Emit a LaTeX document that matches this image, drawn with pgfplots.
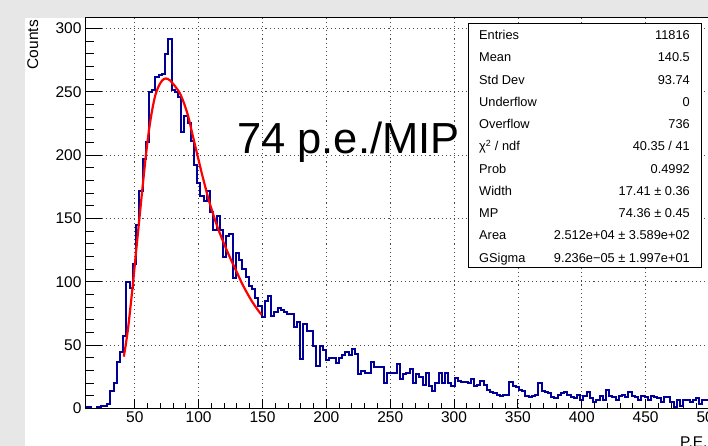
\documentclass[border=0pt]{standalone}
\usepackage{fontspec}
\setmainfont{Liberation Sans}
\usepackage{pgfplots}
\pgfplotsset{compat=1.18}
\definecolor{rootblue}{RGB}{0,0,153}
\definecolor{bggray}{RGB}{231,231,231}
\pgfplotstableread{
x c
10.70 1
13.22 1
15.74 0
18.26 0
20.78 1
23.30 2
25.82 2
28.34 4
30.86 14
33.38 20
35.90 37
38.42 45
40.94 57
43.46 100
45.98 95
48.50 114
51.02 145
53.54 172
56.06 197
58.58 210
61.10 250
63.62 251
66.14 262
68.66 263
71.18 264
73.70 280
76.22 292
78.74 251
81.26 250
83.78 246
86.30 218
88.82 231
91.34 225
93.86 211
96.38 192
98.90 178
101.42 168
103.94 164
106.46 172
108.98 155
111.50 141
114.02 152
116.54 141
119.06 120
121.58 136
124.10 138
126.62 103
129.14 123
131.66 117
134.18 110
136.70 104
139.22 97
141.74 94
144.26 87
146.78 81
149.30 72
151.82 85
154.34 89
156.86 73
159.38 76
161.90 79
164.42 78
166.94 76
169.46 75
171.98 75
174.50 64
177.02 68
179.54 39
182.06 67
184.58 61
187.10 61
189.62 49
192.14 34
194.66 49
197.18 46
199.70 38
202.22 40
204.74 40
207.26 36
209.78 40
212.30 42
214.82 45
217.34 42
219.86 47
222.38 43
224.90 27
227.42 30
229.94 28
232.46 28
234.98 37
237.50 33
240.02 33
242.54 33
245.06 20
247.58 28
250.10 28
252.62 28
255.14 35
257.66 23
260.18 27
262.70 28
265.22 31
267.74 20
270.26 27
272.78 25
275.30 19
277.82 28
280.34 18
282.86 14
285.38 20
287.90 28
290.42 20
292.94 28
295.46 20
297.98 18
300.50 24
303.02 22
305.54 21
308.06 21
310.58 20
313.10 23
315.62 18
318.14 19
320.66 22
323.18 19
325.70 15
328.22 13
330.74 12
333.26 11
335.78 10
338.30 11
340.82 11
343.34 21
345.86 18
348.38 17
350.90 15
353.42 14
355.94 10
358.46 9
360.98 10
363.50 11
366.02 20
368.54 14
371.06 13
373.58 12
376.10 9
378.62 8
381.14 11
383.66 12
386.18 13
388.70 11
391.22 9
393.74 8
396.26 11
398.78 7
401.30 10
403.82 13
406.34 8
408.86 5
411.38 7
413.90 10
416.42 7
418.94 15
421.46 10
423.98 9
426.50 7
429.02 10
431.54 11
434.06 9
436.58 13
439.10 10
441.62 9
444.14 7
446.66 10
449.18 9
451.70 7
454.22 10
456.74 9
459.26 8
461.78 5
464.30 9
466.82 9
469.34 5
471.86 1
474.38 7
476.90 2
479.42 7
481.94 7
484.46 5
486.98 7
489.50 8
492.02 4
494.54 7
497.06 7
499.58 6
502.10 6
504.62 6
}\histdata
\begin{document}
\begin{tikzpicture}
\fill[bggray] (0pt,0pt) rectangle (708pt,446pt);
\fill[white] (25pt,0pt) rectangle (708pt,428pt);
\begin{scope}
\clip (0pt,0pt) rectangle (708pt,446pt);
\begin{axis}[
  at={(85pt,37.4pt)}, anchor=south west, scale only axis,
  width=638.5pt, height=390.6pt,
  xmin=11, xmax=511, ymin=0, ymax=308.2,
  axis line style={black, line width=1pt},
  xtick={50,100,...,500}, ytick={0,50,...,300},
  minor x tick num=4, minor y tick num=4,
  tick pos=left, tick align=inside,
  major tick length=10pt, minor tick length=5.3pt,
  every tick/.style={black, line width=1pt},
  grid=major,
  major grid style={black!70, line width=0.8pt, dash pattern=on 1.1pt off 3pt},
  tick label style={font=\fontsize{15.5}{18}\selectfont},
  /pgf/number format/assume math mode=true,
]
\addplot[const plot, rootblue, line width=2pt] table[x=x, y=c] {\histdata};
\addplot[red, line width=2.2pt, smooth] coordinates {
(41.4,41) (43,51) (44.8,64) (46.8,82) (48.7,100) (51,124) (53.4,148) (56,174)
(58.6,199) (61,219) (63.5,235) (66,247) (68.5,254) (71.5,259) (74.4,260.5)
(77.5,259) (81,255) (85.2,249) (88.5,241) (92,230) (95,217) (98.8,201)
(102.5,185.5) (107.4,166.5) (111,154.5) (115,142.5) (118.5,133.5) (121.8,125.5)
(125.5,117) (129.5,108.5) (133.6,99.5) (137.5,92) (141.5,85) (145.5,79) (149.2,74)
};
\end{axis}
\begin{axis}[
  at={(85pt,37.4pt)}, anchor=south west, scale only axis,
  width=638.5pt, height=390.6pt,
  xmin=11, xmax=511, ymin=0, ymax=308.2,
  axis line style={black, line width=1pt},
  xtick=\empty, ytick={0,50,...,300}, yticklabels={},
  minor y tick num=4,
  tick pos=left, tick align=inside,
  major tick length=16.7pt, minor tick length=9pt,
  every tick/.style={black, line width=1pt},
]
\addplot[draw=none] coordinates {(100,100)};
\end{axis}
\node[anchor=base west, inner sep=0pt, font=\fontsize{43.5}{50}\selectfont] at (237pt,292.7pt) {74 p.e./MIP};
\node[rotate=90, anchor=base east, inner sep=0pt, font=\fontsize{15.5}{18}\selectfont] at (38pt,426pt) {Counts};
\node[anchor=base west, inner sep=0pt, font=\fontsize{15.5}{18}\selectfont] at (680pt,-1.5pt) {P.E.};
% stats box
\draw[black, line width=0.8pt, fill=white] (468.3pt,178.6pt) rectangle (701.7pt,422.7pt);
\begin{scope}[every node/.style={inner sep=0pt, font=\fontsize{12.8}{15}\selectfont}]
\node[anchor=base west] at (479pt,406.4pt) {Entries};
\node[anchor=base east] at (690pt,406.4pt) {11816};
\node[anchor=base west] at (479pt,384.1pt) {Mean};
\node[anchor=base east] at (690pt,384.1pt) {140.5};
\node[anchor=base west] at (479pt,361.9pt) {Std Dev};
\node[anchor=base east] at (690pt,361.9pt) {93.74};
\node[anchor=base west] at (479pt,339.6pt) {Underflow};
\node[anchor=base east] at (690pt,339.6pt) {0};
\node[anchor=base west] at (479pt,317.3pt) {Overflow};
\node[anchor=base east] at (690pt,317.3pt) {736};
\node[anchor=base west] at (479pt,295.1pt) {χ\textsuperscript{2} / ndf};
\node[anchor=base east] at (690pt,295.1pt) {40.35 / 41};
\node[anchor=base west] at (479pt,272.8pt) {Prob};
\node[anchor=base east] at (690pt,272.8pt) {0.4992};
\node[anchor=base west] at (479pt,250.5pt) {Width};
\node[anchor=base east] at (690pt,250.5pt) {17.41 ± 0.36};
\node[anchor=base west] at (479pt,228.2pt) {MP};
\node[anchor=base east] at (690pt,228.2pt) {74.36 ± 0.45};
\node[anchor=base west] at (479pt,206.0pt) {Area};
\node[anchor=base east] at (690pt,206.0pt) {2.512e+04 ± 3.589e+02};
\node[anchor=base west] at (479pt,183.7pt) {GSigma};
\node[anchor=base east] at (690pt,183.7pt) {9.236e−05 ± 1.997e+01};
\end{scope}
\end{scope}
\pgfresetboundingbox
\useasboundingbox (0pt,0pt) rectangle (708pt,446pt);
\end{tikzpicture}
\end{document}
